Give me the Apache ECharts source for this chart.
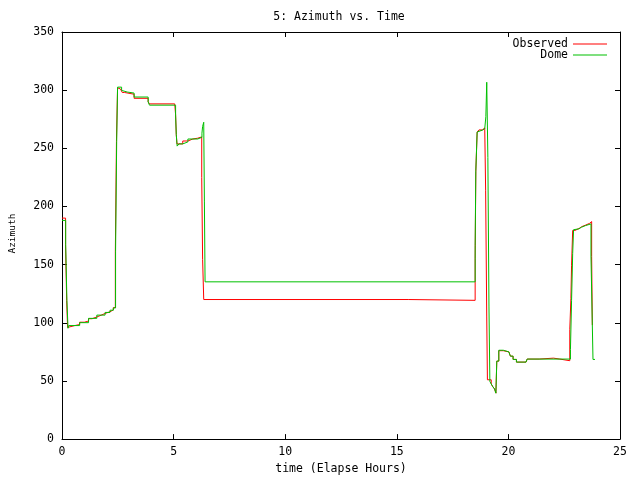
<!DOCTYPE html>
<html>
<head>
<meta charset="utf-8">
<title>5: Azimuth vs. Time</title>
<script src="https://cdn.jsdelivr.net/npm/echarts@6/dist/echarts.min.js"></script>
<style>
html, body { margin: 0; padding: 0; background: #fff; }
#chart { width: 640px; height: 480px; }
</style>
</head>
<body>
<div id="chart"></div>
<script>
// 观测值 (Observed) - time in hours / azimuth in degrees
var obsTime = [0, 0.16, 0.21, 0.25, 0.30, 0.55, 0.79, 1.00, 1.19, 1.35,
	1.56, 1.75, 1.93, 2.15, 2.30, 2.39, 2.44, 2.49, 2.55, 2.62,
	2.70, 2.80, 3.23, 3.86, 3.92, 5.05, 5.09, 5.12, 5.15, 5.41,
	5.64, 5.86, 6.08, 6.26, 6.30, 6.35, 15.51, 18.51, 18.54, 18.60,
	18.68, 18.83, 18.94, 18.98, 19.03, 19.06, 19.23, 19.30, 19.38, 19.44,
	19.48, 19.57, 19.77, 20.02, 20.09, 20.21, 20.36, 20.79, 20.84, 21.38,
	22.02, 22.30, 22.75, 22.80, 22.83, 22.88, 22.98, 23.16, 23.28, 23.46,
	23.64, 23.73, 23.76, 23.78];
var obsAz = [190, 167, 119, 96, 97.5, 98.5, 100.5, 101.5, 103.5, 105,
	106.5, 108, 109.5, 111, 113, 161, 256, 302, 301, 299.5,
	298, 296.5, 293, 290, 288.2, 289, 279, 262, 253.8, 256.3,
	258, 258.7, 259.8, 225, 154.5, 120, 119.3, 155, 230, 264,
	265.8, 267.5, 269, 214, 105, 51, 47.4, 45.1, 43.1, 39.5,
	67, 76, 75, 73.6, 71.3, 68.5, 66.2, 67.9, 68.8, 69.6,
	68.8, 67.4, 94, 120.7, 149.5, 179.4, 181, 182.6, 184, 185.5,
	187, 157, 98, 98];

// 圆顶 (Dome)
var domeTime = [0, 0.165, 0.22, 0.27, 0.30, 0.79, 1.19, 1.56, 1.93, 2.15,
	2.30, 2.40, 2.45, 2.49, 2.67, 2.74, 2.92, 3.23, 3.86, 3.92,
	5.09, 5.12, 5.16, 5.24, 5.41, 5.64, 6.08, 6.27, 6.30, 6.35,
	6.38, 6.41, 18.51, 18.54, 18.60, 18.68, 18.83, 18.94, 18.99, 19.03,
	19.08, 19.13, 19.17, 19.23, 19.30, 19.38, 19.44, 19.48, 19.57, 19.77,
	20.02, 20.09, 20.21, 20.36, 20.79, 20.84, 22.78, 22.83, 22.88, 22.92,
	22.98, 23.16, 23.28, 23.46, 23.70, 23.76, 23.79, 23.88];
var domeAz = [188, 167, 119, 95.3, 97.6, 100.1, 103.8, 106.6, 108.9, 110.8,
	112.8, 161.6, 256, 302.6, 299.8, 298.4, 297.5, 294.1, 289.9, 287.1,
	278.6, 261.7, 251.9, 253.8, 255.5, 258, 259.5, 263, 268.8, 272.4,
	203.9, 135.2, 166.4, 230.7, 264, 265.6, 266.8, 268.5, 277.2, 306.8,
	242, 113.6, 49.6, 47.4, 45.1, 43.1, 39.5, 67.1, 76.4, 75,
	73.6, 71.3, 68.5, 66.2, 67.9, 68.8, 77, 119.3, 159.6, 180,
	180.8, 182.2, 183.6, 185, 157.4, 98.1, 68.5, 68.5];

var xTicks = [0, 5, 10, 15, 20, 25];
var yTicks = [0, 50, 100, 150, 200, 250, 300, 350];

function pairs(ts, vs) {
	var out = [];
	for (var i = 0; i < ts.length; i++) {
		out.push([ts[i], vs[i]]);
	}
	return out;
}

var FONT = 'DejaVu Sans Mono';
var txt = { color : '#000', fontFamily : FONT, fontSize : 11.5 };

function xAxisCfg(pos, labels) {
	return {
		type : 'value',
		position : pos,
		min : xTicks[0],
		max : xTicks[xTicks.length - 1],
		interval : xTicks[1] - xTicks[0],
		axisLine : { show : true, onZero : false, lineStyle : { color : '#000', width : 1 } },
		axisTick : { show : true, inside : true, length : 5, lineStyle : { color : '#000' } },
		axisLabel : { show : labels, margin : 7, color : '#000', fontFamily : FONT, fontSize : 11.5 },
		splitLine : { show : false }
	};
}

function yAxisCfg(pos, labels) {
	return {
		type : 'value',
		position : pos,
		min : yTicks[0],
		max : yTicks[yTicks.length - 1],
		interval : yTicks[1] - yTicks[0],
		axisLine : { show : true, onZero : false, lineStyle : { color : '#000', width : 1 } },
		axisTick : { show : true, inside : true, length : 5, lineStyle : { color : '#000' } },
		axisLabel : { show : labels, margin : 8, color : '#000', fontFamily : FONT, fontSize : 11.5 },
		splitLine : { show : false }
	};
}

var xMain = xAxisCfg('bottom', true);
xMain.name = 'time (Elapse Hours)';
xMain.nameLocation = 'middle';
xMain.nameGap = 21;
xMain.nameTextStyle = txt;

var yMain = yAxisCfg('left', true);
yMain.name = 'Azimuth';
yMain.nameLocation = 'middle';
yMain.nameGap = 44;
yMain.nameTextStyle = { color : '#000', fontFamily : FONT, fontSize : 9.5, padding : [0, 0, 0, 4] };

var option = {
	animation : false,
	backgroundColor : '#fff',
	title : {
		text : '5: Azimuth vs. Time',
		left : 339,
		textAlign : 'center',
		top : 11,
		padding : 0,
		textStyle : { color : '#000', fontFamily : FONT, fontSize : 11.5, fontWeight : 'normal' }
	},
	legend : [ {
		data : [ 'Observed' ],
		right : 33,
		top : 38,
		padding : 0,
		align : 'right',
		icon : 'rect',
		itemWidth : 34,
		itemHeight : 1,
		textStyle : txt
	}, {
		data : [ 'Dome' ],
		right : 33,
		top : 49,
		padding : 0,
		align : 'right',
		icon : 'rect',
		itemWidth : 34,
		itemHeight : 1,
		textStyle : txt
	} ],
	grid : { left : 58, right : 20, top : 32, bottom : 34, containLabel : false },
	xAxis : [ xMain, xAxisCfg('top', false) ],
	yAxis : [ yMain, yAxisCfg('right', false) ],
	series : [ {
		name : 'Observed',
		type : 'line',
		step : 'end',
		showSymbol : false,
		symbol : 'none',
		color : '#ff0000',
		lineStyle : { color : '#ff0000', width : 1 },
		data : pairs(obsTime, obsAz)
	}, {
		name : 'Dome',
		type : 'line',
		step : 'end',
		showSymbol : false,
		symbol : 'none',
		color : '#00c000',
		lineStyle : { color : '#00c000', width : 1 },
		data : pairs(domeTime, domeAz)
	} ]
};

var myChart = echarts.init(document.getElementById('chart'));
myChart.setOption(option);
</script>
</body>
</html>
